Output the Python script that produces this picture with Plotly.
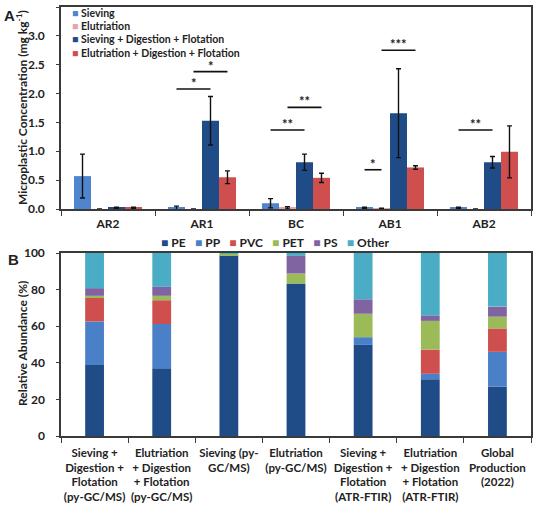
import plotly.graph_objects as go
import numpy as np

# ---------------- Panel A data ----------------
sites = ["AR2", "AR1", "BC", "AB1", "AB2"]
methods_a = ["Sieving", "Elutriation", "Sieving + Digestion + Flotation",
             "Elutriation + Digestion + Flotation"]
sieving = [0.57, 0.02, 0.10, 0.02, 0.02]
sieving_err = [0.38, 0.03, 0.08, 0.01, 0.01]
elutriation = [0.00, 0.00, 0.02, 0.01, 0.00]
elutriation_err = [0.00, 0.00, 0.02, 0.005, 0.00]
sdf = [0.02, 1.53, 0.81, 1.66, 0.81]
sdf_err = [0.01, 0.42, 0.14, 0.77, 0.10]
edf = [0.02, 0.55, 0.54, 0.72, 0.99]
edf_err = [0.01, 0.11, 0.08, 0.03, 0.45]

# significance brackets: site, from-bar index, to-bar index, height, label
sig_site = ["AR1", "AR1", "BC", "BC", "AB1", "AB1", "AB2"]
sig_from = [0, 1, 0, 1, 0, 1, 0]
sig_to = [2, 3, 2, 3, 1, 3, 2]
sig_y = [2.08, 2.38, 1.37, 1.76, 0.68, 2.75, 1.37]
sig_label = ["*", "*", "**", "**", "*", "***", "**"]

# ---------------- Panel B data ----------------
methods_b = [
    "Sieving +<br>Digestion +<br>Flotation<br>(py-GC/MS)",
    "Elutriation<br>+ Digestion<br>+ Flotation<br>(py-GC/MS)",
    "Sieving (py-<br>GC/MS)",
    "Elutriation<br>(py-GC/MS)",
    "Sieving +<br>Digestion +<br>Flotation<br>(ATR-FTIR)",
    "Elutriation<br>+ Digestion<br>+ Flotation<br>(ATR-FTIR)",
    "Global<br>Production<br>(2022)",
]
polymers = ["PE", "PP", "PVC", "PET", "PS", "Other"]
pe = [38.8, 37.0, 98.8, 83.3, 49.8, 31.0, 27.0]
pp = [23.8, 24.2, 0.0, 0.0, 4.2, 3.0, 19.0]
pvc = [12.8, 13.0, 0.0, 0.0, 0.0, 13.2, 12.8]
pet = [1.2, 2.4, 0.8, 5.5, 12.8, 15.7, 6.4]
ps = [4.2, 4.9, 0.0, 9.6, 7.9, 3.0, 5.5]
other = [19.2, 18.5, 0.4, 1.6, 25.3, 34.1, 29.3]

FONT = "Lato, 'Open Sans', sans-serif"
INK = "#222222"
AXC = "#3a3a3a"

colors_a = ["#4f85cc", "#e8a4a4", "#1f4b87", "#cf4f4f"]
colors_b = ["#1f4b87", "#4a80c8", "#cf4f4f", "#9bbb59", "#8064a2", "#4bacc6"]

fig = go.Figure()

bargap_a = 0.277
series_a = [sieving, elutriation, sdf, edf]
errs_a = [sieving_err, elutriation_err, sdf_err, edf_err]
for name, vals, errs, col in zip(methods_a, series_a, errs_a, colors_a):
    fig.add_trace(go.Bar(
        x=sites, y=vals, name=name, marker_color=col, marker_line_width=0,
        error_y=dict(type="data", array=errs, color="#111111", thickness=1.4, width=2.5),
        xaxis="x", yaxis="y", showlegend=False))

series_b = [pe, pp, pvc, pet, ps, other]
arr = np.array(series_b, dtype=float)
bases = np.vstack([np.zeros(arr.shape[1]), np.cumsum(arr, axis=0)[:-1]])
bw = 0.28
for name, vals, base, col in zip(polymers, series_b, bases, colors_b):
    fig.add_trace(go.Bar(
        x=methods_b, y=vals, base=base, name=name, marker_color=col,
        marker_line_width=0, width=bw, offset=-bw / 2, offsetgroup="b",
        xaxis="x2", yaxis="y2", showlegend=False))

# significance brackets
n = len(methods_a)
gw = 1 - bargap_a
def bar_center(site, idx):
    return sites.index(site) + (idx - (n - 1) / 2) * gw / n

for s, i0, i1, yv, lab in zip(sig_site, sig_from, sig_to, sig_y, sig_label):
    x0, x1 = bar_center(s, i0), bar_center(s, i1)
    fig.add_shape(type="line", xref="x", yref="y", x0=x0, x1=x1, y0=yv, y1=yv,
                  line=dict(color="#111111", width=1.6))
    fig.add_annotation(xref="x", yref="y", x=(x0 + x1) / 2, y=yv, text="<b>" + lab + "</b>",
                       showarrow=False, yanchor="bottom", yshift=-4,
                       font=dict(family=FONT, size=13, color=INK))

# paper coordinate helpers (plot area: x 61..531 px, y 7..436 px)
def px(xp):
    return (xp - 61) / 470.0
def py(yp):
    return (436 - yp) / 429.0

# legend A
leg_rows = [13.3, 26.2, 39.3, 52.5]
for name, col, yr in zip(methods_a, colors_a, leg_rows):
    fig.add_annotation(xref="paper", yref="paper", x=px(70), y=py(yr),
                       xanchor="left", yanchor="middle", showarrow=False,
                       text=f"<span style='color:{col}'>■</span> <b>{name}</b>",
                       font=dict(family=FONT, size=10.5, color=INK))

# legend B
leg_b = "&nbsp;&nbsp;&nbsp;".join(
    f"<span style='color:{c}'>■</span> <b>{p}</b>" for p, c in zip(polymers, colors_b))
fig.add_annotation(xref="paper", yref="paper", x=px(275), y=py(242),
                   xanchor="center", yanchor="middle", showarrow=False, text=leg_b,
                   font=dict(family=FONT, size=12, color=INK))

# panel letters
fig.add_annotation(xref="paper", yref="paper", x=px(2), y=py(16), xanchor="left",
                   yanchor="middle", showarrow=False, text="<b>A</b>",
                   font=dict(family="Liberation Sans, Arial", size=15, color=INK))
fig.add_annotation(xref="paper", yref="paper", x=px(6), y=py(259), xanchor="left",
                   yanchor="middle", showarrow=False, text="<b>B</b>",
                   font=dict(family="Liberation Sans, Arial", size=15, color=INK))

# axis titles
fig.add_annotation(xref="paper", yref="paper", x=px(22), y=py(108), textangle=-90,
                   showarrow=False, xanchor="center", yanchor="middle",
                   text="<b>Microplastic Concentration (mg kg<sup>-1</sup>)</b>",
                   font=dict(family=FONT, size=12, color=INK))
fig.add_annotation(xref="paper", yref="paper", x=px(22), y=py(344), textangle=-90,
                   showarrow=False, xanchor="center", yanchor="middle",
                   text="<b>Relative Abundance (%)</b>",
                   font=dict(family=FONT, size=12, color=INK))

tickfont = dict(family=FONT, size=12, color=INK)
axis_common = dict(showline=True, linecolor=AXC, linewidth=1.5, mirror=True,
                   showgrid=False, zeroline=False, tickfont=tickfont,
                   ticks="outside", tickcolor=AXC, tickwidth=1.2, automargin=False)

fig.update_layout(
    width=534, height=509,
    margin=dict(l=61, r=3, t=7, b=73),
    plot_bgcolor="white", paper_bgcolor="white",
    barmode="group", bargap=bargap_a, bargroupgap=0,
    showlegend=False,
    font=dict(family=FONT, color=INK),
    xaxis=dict(domain=[0, 1], anchor="y", tickson="boundaries", ticklen=5,
               tickangle=0, tickprefix="<b>", ticksuffix="</b>", ticklabelstandoff=3,
               **axis_common),
    yaxis=dict(domain=[py(209), 1], anchor="x", range=[0, 3.5], dtick=0.5,
               tickformat=".1f", tickprefix="<b>", ticksuffix="</b>", ticklen=3,
               ticklabelstandoff=9, **axis_common),
    xaxis2=dict(domain=[0, 1], anchor="y2", tickson="boundaries", ticklen=5,
                tickangle=0, tickprefix="<b>", ticksuffix="</b>", ticklabelstandoff=5,
                **{**axis_common, "tickfont": dict(family=FONT, size=11.5, color=INK)}),
    yaxis2=dict(domain=[0, py(253)], anchor="x2", range=[0, 100], dtick=20,
                tickprefix="<b>", ticksuffix="</b>", ticklen=3, ticklabelstandoff=9,
                **axis_common),
)

fig.write_html(
    "out.html",
    config={"displayModeBar": False},
    post_script="document.body.style.margin='0';document.body.style.padding='0';"
                "document.body.style.overflow='hidden';",
)
